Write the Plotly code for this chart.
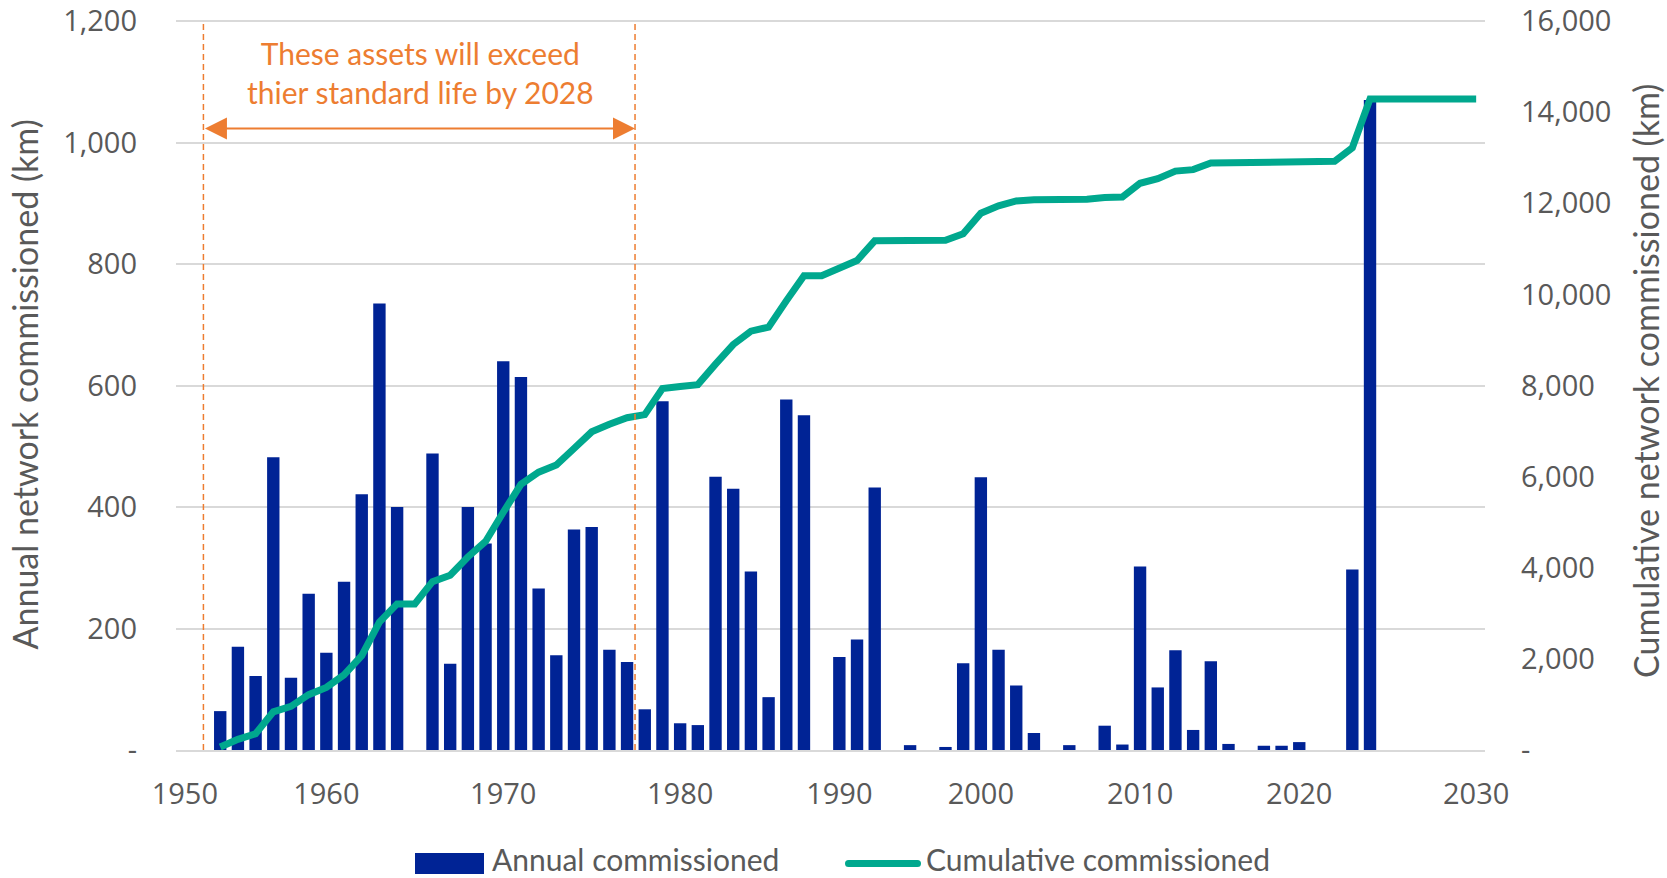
import plotly.graph_objects as go

# ---- data -------------------------------------------------------------
years = [
    "1950", "1951", "1952", "1953", "1954", "1955", "1956", "1957",
    "1960", "1961", "1962", "1963", "1964", "1965", "1966", "1967", "1968", "1969",
    "1970", "1971", "1972", "1973", "1974", "1975", "1976", "1977", "1978", "1979",
    "1980", "1981", "1982", "1983", "1984", "1985", "1986", "1987", "1988",
    "1990", "1991", "1992", "1993", "1994", "1995", "1996", "1997",
    "2000", "2001", "2002", "2003", "2004", "2005", "2006", "2007", "2008",
    "2010", "2011", "2012", "2013", "2014", "2015", "2016", "2017", "2018",
    "2020", "2021", "2022", "2023", "2024", "2025", "2026", "2027", "2028", "2029", "2030",
]

annual_km = [
    0, 0, 64, 170, 122, 482, 119, 257,
    160, 277, 421, 735, 400, 0, 488, 142, 400, 340,
    640, 614, 266, 156, 363, 367, 165, 145, 67, 574,
    44, 41, 450, 430, 294, 87, 577, 551, 0,
    153, 182, 432, 0, 8, 0, 5, 143,
    449, 165, 106, 28, 0, 8, 0, 40, 9,
    302, 103, 164, 33, 146, 10, 0, 7, 7,
    13, 0, 0, 297, 1070, 0, 0, 0, 0, 0, 0,
]

cumulative_km = [
    None, None, 64, 234, 356, 838, 957, 1214,
    1374, 1651, 2072, 2807, 3207, 3207, 3695, 3837, 4237, 4577,
    5217, 5831, 6097, 6253, 6616, 6983, 7148, 7293, 7360, 7934,
    7978, 8019, 8469, 8899, 9193, 9280, 9857, 10408, 10408,
    10561, 10743, 11175, 11175, 11183, 11183, 11188, 11331,
    11780, 11945, 12051, 12079, 12079, 12087, 12087, 12127, 12136,
    12438, 12541, 12705, 12738, 12884, 12894, 12894, 12901, 12908,
    12921, 12921, 12921, 13218, 14288, 14288, 14288, 14288, 14288, 14288, 14288,
]

decade_ticks = ["1950", "1960", "1970", "1980", "1990", "2000", "2010", "2020", "2030"]

left_tickvals = [0, 200, 400, 600, 800, 1000, 1200]
left_ticktext = ["-", "200", "400", "600", "800", "1,000", "1,200"]
right_tickvals = [0, 2000, 4000, 6000, 8000, 10000, 12000, 14000, 16000]
right_ticktext = ["-", "2,000", "4,000", "6,000", "8,000", "10,000", "12,000", "14,000", "16,000"]

# ---- styling ----------------------------------------------------------
BAR_BLUE = "#002395"
LINE_TEAL = "#00A88E"
ORANGE = "#ED7D31"
GREY_TXT = "#595959"
GRID = "#D9D9D9"
TICK_FONT = dict(family="Open Sans", size=29, color=GREY_TXT)
TEXT_FONT = "Lato"

W, H = 1667, 878
L, R, T, B = 176, 182, 19, 128
PW, PH = W - L - R, H - T - B
BASE_Y = H - B            # pixel row of the zero line
TOP_GRID_Y = 21           # pixel row of the highest gridline
TOP_PAD = (BASE_Y - T) / (BASE_Y - TOP_GRID_Y)  # keeps the top gridline off the frame edge


def px(xp):
    """page pixel x -> paper fraction"""
    return (xp - L) / PW


def py(yp):
    """page pixel y -> paper fraction"""
    return (H - B - yp) / PH


fig = go.Figure()

fig.add_trace(go.Bar(
    x=years,
    y=[v if v else None for v in annual_km],
    width=0.7,
    marker=dict(color=BAR_BLUE, line=dict(width=0)),
    name="Annual commissioned",
    yaxis="y",
))

fig.add_trace(go.Scatter(
    x=years,
    y=cumulative_km,
    mode="lines",
    line=dict(color=LINE_TEAL, width=7),
    name="Cumulative commissioned",
    yaxis="y2",
))

# standard-life window: dashed bounds and double-headed arrow
life_start, life_end = 1.05, 25.45
shapes = []
for xv in (life_start, life_end):
    shapes.append(dict(
        type="line", xref="x", yref="y", x0=xv, x1=xv, y0=0, y1=1200,
        line=dict(color=ORANGE, width=1.5, dash="6px,4px"), layer="above",
    ))

# custom legend
shapes.append(dict(
    type="rect", xref="paper", yref="paper",
    x0=px(415), x1=px(484), y0=py(874), y1=py(853),
    fillcolor=BAR_BLUE, line=dict(width=0),
))
shapes.append(dict(
    type="line", xref="paper", yref="paper",
    x0=px(848.5), x1=px(917.5), y0=py(863.5), y1=py(863.5),
    line=dict(color=LINE_TEAL, width=7),
))
for cx in (848.5, 917.5):
    shapes.append(dict(
        type="circle", xref="paper", yref="paper",
        xsizemode="pixel", ysizemode="pixel",
        xanchor=px(cx), yanchor=py(863.5),
        x0=-3.5, x1=3.5, y0=-3.5, y1=3.5,
        fillcolor=LINE_TEAL, line=dict(width=0),
    ))

annotations = [
    dict(
        x=life_end, y=1023, ax=life_start, ay=1023,
        xref="x", yref="y", axref="x", ayref="y",
        text="", showarrow=True, arrowside="end+start",
        arrowhead=2, startarrowhead=2, arrowsize=2.2, startarrowsize=2.2,
        arrowwidth=2, arrowcolor=ORANGE,
    ),
    dict(
        x=13.3, y=1115, xref="x", yref="y",
        text="These assets will exceed<br>thier standard life by 2028",
        showarrow=False, align="center", xanchor="center", yanchor="middle",
        font=dict(family=TEXT_FONT, size=30, color=ORANGE),
    ),
    dict(
        x=px(24), y=py(384.5), xref="paper", yref="paper",
        text="Annual network commissioned (km)", textangle=-90,
        showarrow=False, xanchor="center", yanchor="middle",
        font=dict(family=TEXT_FONT, size=34, color=GREY_TXT),
    ),
    dict(
        x=px(1645), y=py(381), xref="paper", yref="paper",
        text="Cumulative network commissioned (km)", textangle=-90,
        showarrow=False, xanchor="center", yanchor="middle",
        font=dict(family=TEXT_FONT, size=34, color=GREY_TXT),
    ),
    dict(
        x=px(491), y=py(859), xref="paper", yref="paper",
        text="Annual commissioned", showarrow=False, borderpad=0,
        xanchor="left", yanchor="middle",
        font=dict(family=TEXT_FONT, size=30, color=GREY_TXT),
    ),
    dict(
        x=px(925), y=py(859), xref="paper", yref="paper",
        text="Cumulative commissioned", showarrow=False, borderpad=0,
        xanchor="left", yanchor="middle",
        font=dict(family=TEXT_FONT, size=30, color=GREY_TXT),
    ),
]

fig.update_layout(
    width=W, height=H,
    margin=dict(l=L, r=R, t=T, b=B, pad=0),
    paper_bgcolor="white", plot_bgcolor="white",
    showlegend=False,
    bargap=0.3,
    shapes=shapes,
    annotations=annotations,
    xaxis=dict(
        type="category", categoryorder="array", categoryarray=years,
        range=[-0.5, len(years) - 0.5],
        tickmode="array", tickvals=decade_ticks, ticktext=decade_ticks,
        showgrid=False, zeroline=False,
        showline=True, linecolor=GRID, linewidth=2,
        ticks="", tickfont=TICK_FONT, ticklabelstandoff=17,
        automargin=False,
    ),
    yaxis=dict(
        range=[0, 1200 * TOP_PAD],
        tickmode="array", tickvals=left_tickvals, ticktext=left_ticktext,
        showgrid=True, gridcolor=GRID, gridwidth=2,
        zeroline=False, showline=False,
        ticks="", tickfont=TICK_FONT, ticklabelstandoff=38,
        ticklabeloverflow="allow",
        automargin=False,
    ),
    yaxis2=dict(
        overlaying="y", side="right",
        range=[0, 16000 * TOP_PAD],
        tickmode="array", tickvals=right_tickvals, ticktext=right_ticktext,
        showgrid=False, zeroline=False, showline=False,
        ticks="", tickfont=TICK_FONT, ticklabelstandoff=35,
        ticklabeloverflow="allow",
        automargin=False,
    ),
)

fig.write_html("out.html")
